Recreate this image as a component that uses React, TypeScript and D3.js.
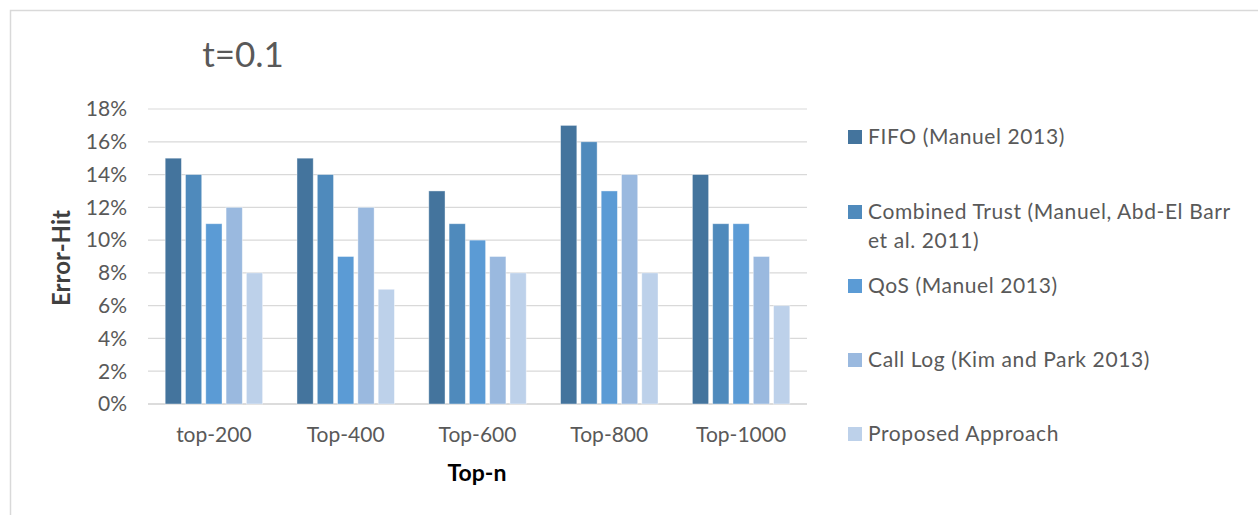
import React from 'react';
import * as d3 from 'd3';

const categories = ['top-200', 'Top-400', 'Top-600', 'Top-800', 'Top-1000'];
const seriesNames = [
  'FIFO (Manuel 2013)',
  'Combined Trust (Manuel, Abd-El Barr et al. 2011)',
  'QoS (Manuel 2013)',
  'Call Log (Kim and Park 2013)',
  'Proposed Approach',
];
const fifo = [0.15, 0.15, 0.13, 0.17, 0.14];
const combinedTrust = [0.14, 0.14, 0.11, 0.16, 0.11];
const qos = [0.11, 0.09, 0.1, 0.13, 0.11];
const callLog = [0.12, 0.12, 0.09, 0.14, 0.09];
const proposed = [0.08, 0.07, 0.08, 0.08, 0.06];
const yTicks = [0, 0.02, 0.04, 0.06, 0.08, 0.1, 0.12, 0.14, 0.16, 0.18];
const colors = ['#44749d', '#4f8abc', '#5b9bd5', '#9ab9df', '#bdd1ea'];

const W = 1258;
const H = 515;
const FONT = 'Lato, "Open Sans", sans-serif';

export default function App() {
  const series = [fifo, combinedTrust, qos, callLog, proposed];

  // plot area
  const left = 148;
  const right = 807;
  const top = 109;
  const bottom = 404;

  const y = d3.scaleLinear().domain([0, 0.18]).range([bottom, top]);
  const x0 = d3.scaleBand<string>().domain(categories).range([left, right]).paddingInner(0.23).paddingOuter(0.115);
  const x1 = d3.scaleBand<number>().domain(d3.range(seriesNames.length)).range([0, x0.bandwidth()]).paddingInner(0.2).paddingOuter(0.1);
  const fmt = d3.format('.0%');

  // legend rows: wrapped label lines and y of the first line
  const legendRows = [
    { lines: ['FIFO (Manuel 2013)'], y: 137 },
    { lines: ['Combined Trust (Manuel, Abd-El Barr', 'et al. 2011)'], y: 212 },
    { lines: ['QoS (Manuel 2013)'], y: 286 },
    { lines: ['Call Log (Kim and Park 2013)'], y: 360 },
    { lines: ['Proposed Approach'], y: 434 },
  ];

  return (
    <svg width={W} height={H} style={{ position: 'absolute', left: 0, top: 0, background: '#fff' }} fontFamily={FONT}>
      <rect x={10.5} y={10.5} width={1400} height={700} fill="#fff" stroke="#d9d9d9" strokeWidth={1.5} />

      <text x={243} y={67} textAnchor="middle" fontSize={35} fill="#595959">t=0.1</text>

      {/* grid + y ticks */}
      {yTicks.map((t) => (
        <g key={t}>
          <line x1={left} x2={right} y1={y(t)} y2={y(t)} stroke={t === 0 ? '#d0d0d0' : '#d9d9d9'} strokeWidth={t === 0 ? 1.5 : 1.2} />
          <text x={127} y={y(t)} dy="0.35em" textAnchor="end" fontSize={21} fill="#595959">{fmt(t)}</text>
        </g>
      ))}

      {/* bars */}
      {categories.map((c, ci) => (
        <g key={c} transform={`translate(${x0(c)},0)`}>
          {series.map((s, si) => (
            <rect
              key={si}
              x={x1(si)}
              y={y(s[ci])}
              width={x1.bandwidth()}
              height={y(0) - y(s[ci])}
              fill={colors[si]}
              stroke="#fff"
              strokeOpacity={0.5}
              strokeWidth={0.8}
            />
          ))}
        </g>
      ))}

      {/* x labels */}
      {categories.map((c) => (
        <text key={c} x={(x0(c) ?? 0) + x0.bandwidth() / 2} y={442} textAnchor="middle" fontSize={21} fill="#595959">{c}</text>
      ))}

      <text x={477} y={481} textAnchor="middle" fontSize={23} fontWeight="bold" fill="#000">Top-n</text>
      <text transform={`translate(70,258) rotate(-90)`} textAnchor="middle" fontSize={24} fontWeight="bold" fill="#404040">Error-Hit</text>

      {/* legend */}
      {legendRows.map((r, i) => (
        <g key={i}>
          <rect x={848} y={r.y - 7} width={14} height={14} fill={colors[i]} />
          {r.lines.map((ln, li) => (
            <text key={li} x={868} y={r.y + li * 29} dy="0.35em" fontSize={21} letterSpacing={0.6} fill="#595959">{ln}</text>
          ))}
        </g>
      ))}
    </svg>
  );
}
